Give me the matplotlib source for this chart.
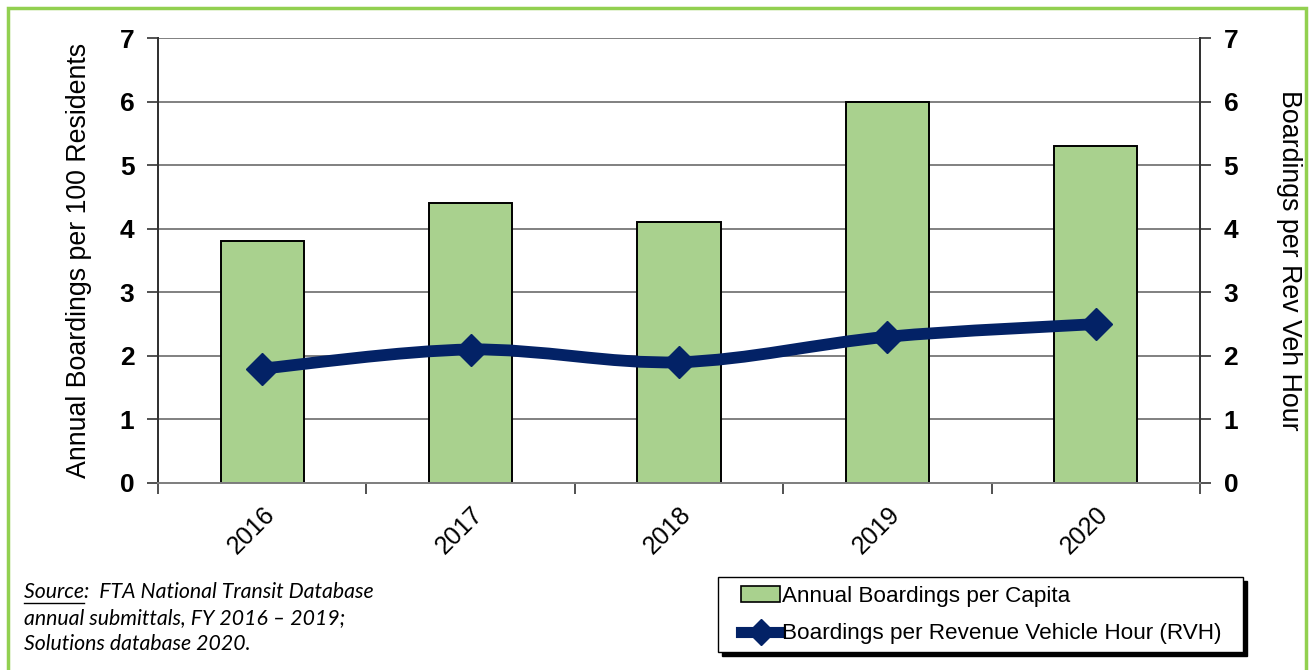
import numpy as np
import matplotlib
matplotlib.use("Agg")
import matplotlib.pyplot as plt
from matplotlib.path import Path
from matplotlib.patches import PathPatch, Rectangle, Patch
from matplotlib.lines import Line2D

years = ["2016", "2017", "2018", "2019", "2020"]
boardings_per_capita = [3.8, 4.4, 4.1, 6.0, 5.3]
boardings_per_rvh = [1.8, 2.1, 1.9, 2.3, 2.5]

bar_label = "Annual Boardings per Capita"
line_label = "Boardings per Revenue Vehicle Hour (RVH)"

bar_color = "#A9D18E"
line_color = "#032266"
grid_color = "#808080"

plt.rcParams["font.family"] = ["Liberation Sans", "DejaVu Sans"]

W, H = 1314, 670
fig = plt.figure(figsize=(W / 100, H / 100), dpi=100)
ax = fig.add_axes([158 / W, 1 - 483 / H, (1200 - 158) / W, (483 - 38) / H])
ax2 = ax.twinx()

x = np.arange(len(years))

# bars on the left axis
ax.bar(x, boardings_per_capita, width=0.4, color=bar_color, edgecolor="black",
       linewidth=1.4, zorder=3)
ax.set_xlim(-0.5, len(years) - 0.5)
ax.set_ylim(0, 7)
ax.set_yticks(range(8))
ax.yaxis.grid(True, color=grid_color, linewidth=1.4, zorder=0)
ax.set_axisbelow(True)

# smooth line (excel style bezier) on the right axis
pts = np.column_stack([x, boardings_per_rvh]).astype(float)
verts = [tuple(pts[0])]
codes = [Path.MOVETO]
n = len(pts)
for i in range(n - 1):
    p0 = pts[max(i - 1, 0)]
    p1 = pts[i]
    p2 = pts[i + 1]
    p3 = pts[min(i + 2, n - 1)]
    c1 = p1 + (p2 - p0) / 6
    c2 = p2 - (p3 - p1) / 6
    verts += [tuple(c1), tuple(c2), tuple(p2)]
    codes += [Path.CURVE4] * 3
curve = PathPatch(Path(verts, codes), fill=False, edgecolor=line_color, linewidth=8.5,
                  capstyle="round", joinstyle="round", transform=ax2.transData, zorder=4)
ax2.add_patch(curve)
ax2.plot(x, boardings_per_rvh, linestyle="none", marker="D", markersize=16.5,
         color=line_color, zorder=5)
ax2.set_ylim(0, 7)
ax2.set_yticks(range(8))

# spines / ticks
for a in (ax, ax2):
    a.spines["top"].set_visible(False)
    a.spines["left"].set_color("#333333")
    a.spines["right"].set_color("#333333")
    a.spines["bottom"].set_color(grid_color)
    a.spines["left"].set_linewidth(1.4)
    a.spines["right"].set_linewidth(1.4)
    a.spines["bottom"].set_linewidth(1.4)

ax.tick_params(axis="y", length=8, width=1.2, color="#333333", pad=9, labelsize=19)
ax2.tick_params(axis="y", length=8, width=1.2, color="#333333", pad=9, labelsize=19)
for lab in ax.get_yticklabels() + ax2.get_yticklabels():
    lab.set_fontweight("bold")

ax.set_xticks(x)
ax.set_xticklabels(years, rotation=45, ha="right", va="top", rotation_mode="anchor",
                   fontsize=18)
ax.set_xticks(np.arange(-0.5, len(years)), minor=True)
ax.tick_params(axis="x", which="major", length=0, pad=14)
ax.tick_params(axis="x", which="minor", length=8, width=1.2, color="#333333")

ax.set_ylabel("Annual Boardings per 100 Residents", fontsize=19.3, labelpad=20)
ax2.set_ylabel("Boardings per Rev Veh Hour", fontsize=19.3, rotation=-90, labelpad=46)

# legend with a hard black shadow box
box_x0, box_x1, box_y0, box_y1 = 718, 1243, 577, 652
fig.add_artist(Rectangle(((box_x0 + 4) / W, 1 - (box_y1 + 4) / H),
                         (box_x1 - box_x0) / W, (box_y1 - box_y0) / H,
                         facecolor="black", edgecolor="black", transform=fig.transFigure))
fig.add_artist(Rectangle((box_x0 / W, 1 - box_y1 / H),
                         (box_x1 - box_x0) / W, (box_y1 - box_y0) / H,
                         facecolor="white", edgecolor="black", linewidth=1.0,
                         transform=fig.transFigure))
handles = [Patch(facecolor=bar_color, edgecolor="black", linewidth=1.2),
           Line2D([], [], color=line_color, linewidth=8, marker="D", markersize=13)]
leg = fig.legend(handles, [bar_label, line_label], loc="center left",
                 bbox_to_anchor=(741 / W, 1 - 615 / H), fontsize=16.2,
                 frameon=False, handlelength=1.75, handletextpad=0.05,
                 labelspacing=0.75, borderpad=0, borderaxespad=0)
leg.set_zorder(5)

# source note
src_font = dict(family=["Lato", "DejaVu Sans"], style="italic", fontsize=15.3)
src_lines = ["Source:  FTA National Transit Database",
             "annual submittals, FY 2016 \u2013 2019;",
             "Solutions database 2020."]
for k, line in enumerate(src_lines):
    fig.text(24 / W, 1 - (598 + 26 * k) / H, line, ha="left", va="baseline", **src_font)
fig.canvas.draw()
renderer = fig.canvas.get_renderer()
probe = fig.text(24 / W, 1 - 598 / H, "Source", ha="left", va="baseline", **src_font)
bb = probe.get_window_extent(renderer)
probe.remove()
fig.add_artist(Line2D([bb.x0 / W, bb.x1 / W], [(bb.y0 - 1) / H, (bb.y0 - 1) / H],
                      color="black", linewidth=1.0, transform=fig.transFigure))

# green frame
fig.add_artist(Rectangle((8 / W, -0.05), (1306 - 8) / W, 1 - 8 / H + 0.05, fill=False,
                         edgecolor="#92D050", linewidth=2.5, transform=fig.transFigure))

fig.savefig("out.png", dpi=100)
